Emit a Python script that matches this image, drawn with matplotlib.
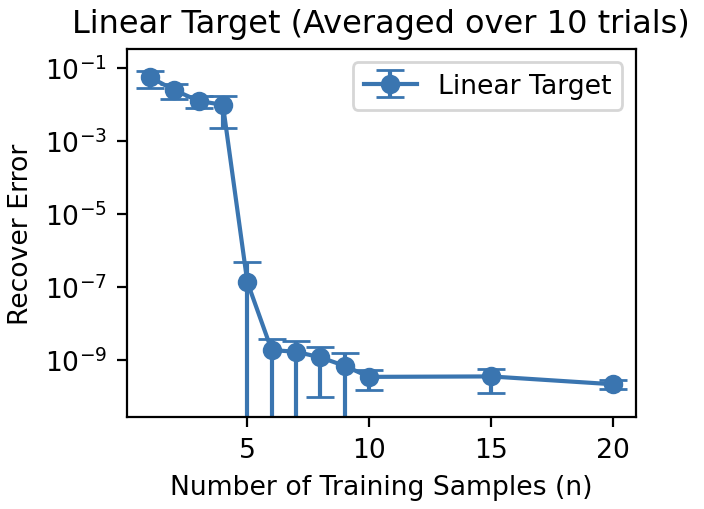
import matplotlib

matplotlib.use("Agg")
import matplotlib.pyplot as plt

n_samples = [1, 2, 3, 4, 5, 6, 7, 8, 9, 10, 15, 20]
mean_error = [0.056, 0.025, 0.0125, 0.0098, 1.4e-7, 1.9e-9, 1.7e-9, 1.2e-9,
              7.0e-10, 3.5e-10, 3.6e-10, 2.2e-10]
std_error = [0.027, 0.011, 0.0045, 0.0075, 3.5e-7, 1.9e-9, 1.7e-9, 1.1e-9,
             0.9e-9, 2.0e-10, 2.3e-10, 0.6e-10]

plt.rcParams["font.size"] = 9.6

fig = plt.figure(figsize=(3.52, 2.55), dpi=200)
ax = fig.add_axes([0.18, 0.18, 0.723, 0.722])
ax.errorbar(n_samples, mean_error, yerr=std_error, marker="o", markersize=6,
            linewidth=1.5, capsize=5, color="#3a75b0", label="Linear Target")
ax.set_yscale("log")
ax.set_ylim(10 ** -10.56, 10 ** -0.48)
ax.set_xticks([5, 10, 15, 20])
ax.set_xlabel("Number of Training Samples (n)")
ax.set_ylabel("Recover Error")
ax.set_title("Linear Target (Averaged over 10 trials)")
ax.legend()
fig.savefig("out.png", dpi=200)
